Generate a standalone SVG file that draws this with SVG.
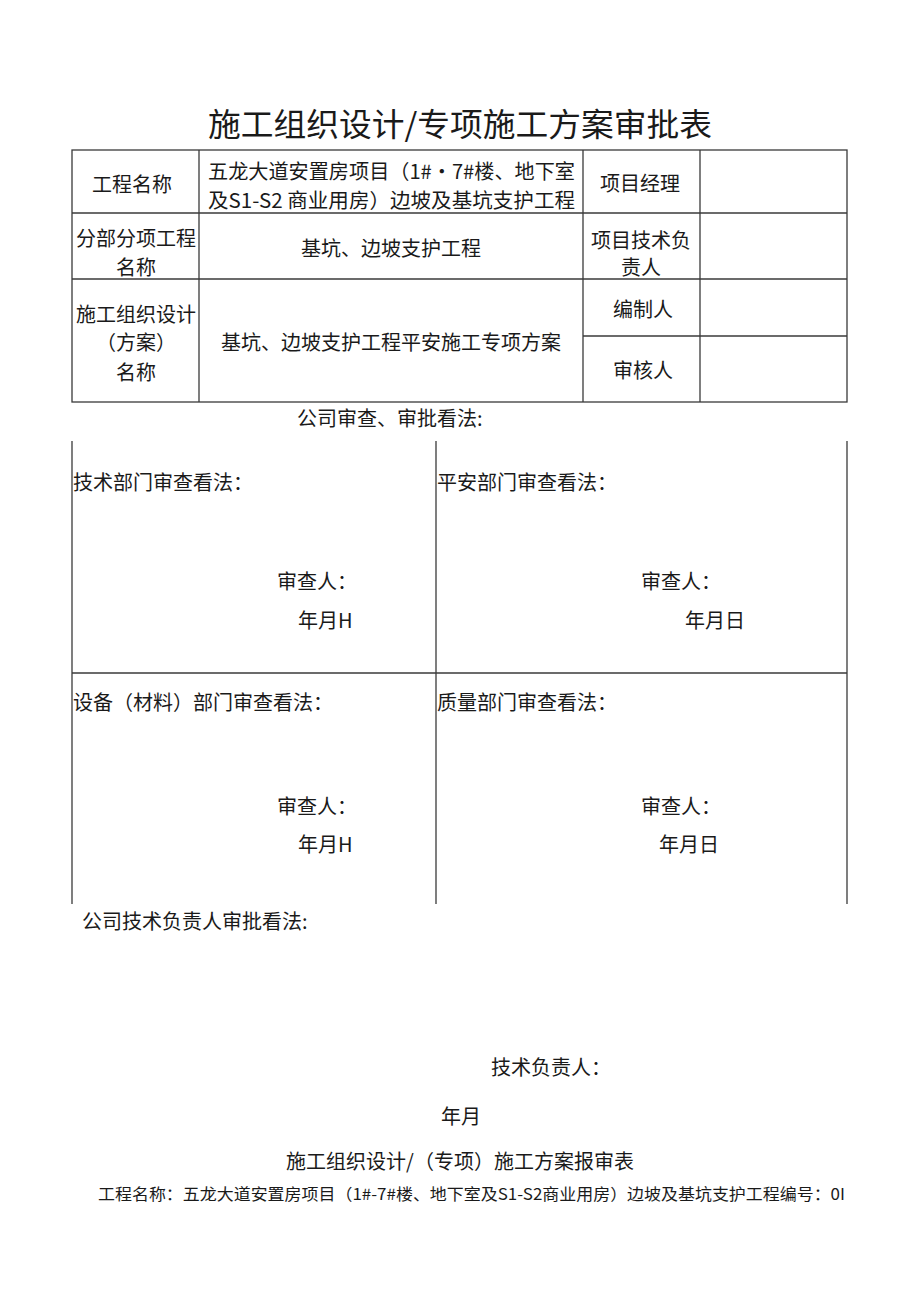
<svg xmlns="http://www.w3.org/2000/svg" width="920" height="1301" viewBox="0 0 920 1301">
<style>
text{font-family:"Noto Sans CJK SC","Liberation Sans",sans-serif;fill:#1a1a1a;dominant-baseline:central;font-size:20px}
.c{text-anchor:middle}
.t{font-size:32px}
.s{font-size:16px}
.ln{stroke:#3a3a3a;stroke-width:1.3;fill:none}
</style>
<rect width="920" height="1301" fill="#fff"/>
<g id="title"><text class="t" x="208" y="122" textLength="504" lengthAdjust="spacingAndGlyphs">施工组织设计/专项施工方案审批表</text></g>
<g id="connectors">
<rect class="ln" x="72" y="150" width="775" height="252"/>
<line class="ln" x1="72" y1="213" x2="847" y2="213"/>
<line class="ln" x1="72" y1="279" x2="847" y2="279"/>
<line class="ln" x1="583" y1="336" x2="847" y2="336"/>
<line class="ln" x1="199" y1="150" x2="199" y2="402"/>
<line class="ln" x1="583" y1="150" x2="583" y2="402"/>
<line class="ln" x1="700" y1="150" x2="700" y2="402"/>
<line class="ln" x1="72" y1="441" x2="72" y2="904"/>
<line class="ln" x1="436" y1="441" x2="436" y2="904"/>
<line class="ln" x1="847" y1="441" x2="847" y2="904"/>
<line class="ln" x1="72" y1="673" x2="847" y2="673"/>
</g>
<g id="row1">
<text class="c" x="132" y="183">工程名称</text>
<text x="208" y="170" textLength="367" lengthAdjust="spacingAndGlyphs">五龙大道安置房项目（1#・7#楼、地下室</text>
<text x="208" y="199" textLength="367" lengthAdjust="spacingAndGlyphs">及S1-S2 商业用房）边坡及基坑支护工程</text>
<text class="c" x="640" y="182">项目经理</text>
</g>
<g id="row2">
<text class="c" x="136" y="237">分部分项工程</text>
<text class="c" x="136" y="266">名称</text>
<text class="c" x="391" y="247">基坑、边坡支护工程</text>
<text class="c" x="641" y="239">项目技术负</text>
<text class="c" x="641" y="266">责人</text>
</g>
<g id="row3">
<text class="c" x="136" y="313">施工组织设计</text>
<text class="c" x="136" y="341">（方案）</text>
<text class="c" x="136" y="371">名称</text>
<text class="c" x="391" y="341">基坑、边坡支护工程平安施工专项方案</text>
<text class="c" x="643" y="308">编制人</text>
<text class="c" x="643" y="369">审核人</text>
</g>
<g id="review-head"><text x="297" y="417">公司审查、审批看法:</text></g>
<g id="tech-dept">
<text x="73" y="481">技术部门审查看法：</text>
<text x="277" y="580">审查人：</text>
<text x="298" y="619">年月H</text>
</g>
<g id="safety-dept">
<text x="437" y="481">平安部门审查看法：</text>
<text x="641" y="580">审查人：</text>
<text x="685" y="619">年月日</text>
</g>
<g id="equip-dept">
<text x="73" y="701">设备（材料）部门审查看法：</text>
<text x="277" y="805">审查人：</text>
<text x="298" y="843">年月H</text>
</g>
<g id="quality-dept">
<text x="437" y="701">质量部门审查看法：</text>
<text x="641" y="805">审查人：</text>
<text x="659" y="843">年月日</text>
</g>
<g id="chief">
<text x="82" y="920">公司技术负责人审批看法:</text>
<text x="491" y="1066">技术负责人：</text>
<text x="441" y="1115">年月</text>
</g>
<g id="footer">
<text class="c" x="460" y="1160">施工组织设计/（专项）施工方案报审表</text>
<text class="s" x="98" y="1193" textLength="747" lengthAdjust="spacingAndGlyphs">工程名称：五龙大道安置房项目（1#-7#楼、地下室及S1-S2商业用房）边坡及基坑支护工程编号：0I</text>
</g>
</svg>
